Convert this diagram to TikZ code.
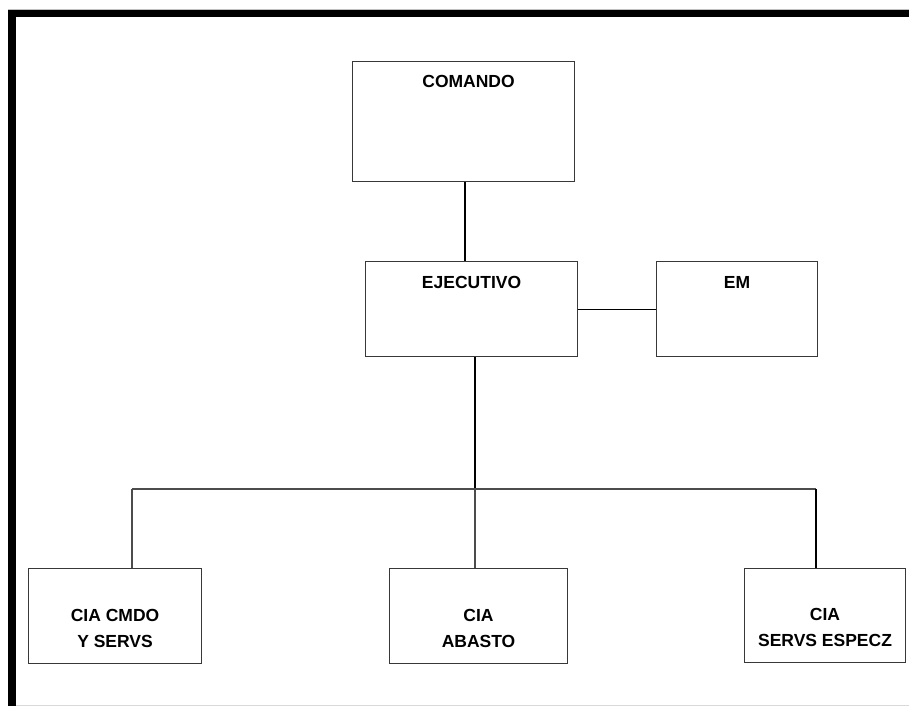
\documentclass[tikz,border=0pt]{standalone}
\usepackage{fontspec}
\setmainfont{Liberation Sans}
\usetikzlibrary{calc}
\begin{document}
\begin{tikzpicture}[x=1pt,y=-1pt,
  box/.style={draw=black!78, line width=1.1pt, fill=white, inner sep=0pt, anchor=north west},
  lbl/.style={font=\bfseries\fontsize{17.5}{26}\selectfont, align=center, inner sep=0pt},
  link/.style={draw=black, line width=1.1pt},
  bus/.style={draw=black!70, line width=1.1pt}]
  % page area and frame
  \useasboundingbox (0,0) rectangle (909,706);
  \fill[white] (0,0) rectangle (909,706);
  \draw[black!25, line width=0.8pt] (8,9) -- (909,9);
  \draw[black!15, line width=0.8pt] (16,705) -- (909,705);
  \fill[black] (8,10) rectangle (909,17);
  \fill[black] (8,10) rectangle (16,706);

  % boxes
  \node[box, minimum width=222pt, minimum height=120pt] (comando) at (352,61) {};
  \node[box, minimum width=212pt, minimum height=95pt] (ejec) at (365,261) {};
  \node[box, minimum width=161pt, minimum height=95pt] (em) at (656,261) {};
  \node[box, minimum width=173pt, minimum height=95pt] (cmdo) at (28,568) {};
  \node[box, minimum width=178pt, minimum height=95pt] (abasto) at (389,568) {};
  \node[box, minimum width=161pt, minimum height=94pt] (especz) at (744,568) {};

  % labels
  \node[lbl, anchor=base] (comando-t) at ($(comando.north)+(5,27)$) {COMANDO};
  \node[lbl, anchor=base] (ejec-t) at ($(ejec.north)+(0,27)$) {EJECUTIVO};
  \node[lbl, anchor=base] (em-t) at ($(em.north)+(0,27)$) {EM};
  \node[lbl] (cmdo-t) at ($(cmdo.center)+(0,12)$) {CIA CMDO\\Y SERVS};
  \node[lbl] (abasto-t) at ($(abasto.center)+(0,12)$) {CIA\\ABASTO};
  \node[lbl] (especz-t) at ($(especz.center)+(0,12)$) {CIA\\SERVS ESPECZ};

  % connectors
  \coordinate (c1) at (465,0);
  \coordinate (busL) at (132,489);
  \coordinate (busM) at (475,489);
  \coordinate (busR) at (816,489);
  \draw[link] (comando.south -| c1) -- (ejec.north -| c1);
  \draw[link] (ejec.east) -- (em.west);
  \draw[link] (ejec.south -| busM) -- (busM);
  \draw[bus] (busL) -- (busR);
  \draw[bus] (busL) -- (cmdo.north -| busL);
  \draw[bus] (busM) -- (abasto.north -| busM);
  \draw[link] (busR) -- (especz.north -| busR);
\end{tikzpicture}
\end{document}
